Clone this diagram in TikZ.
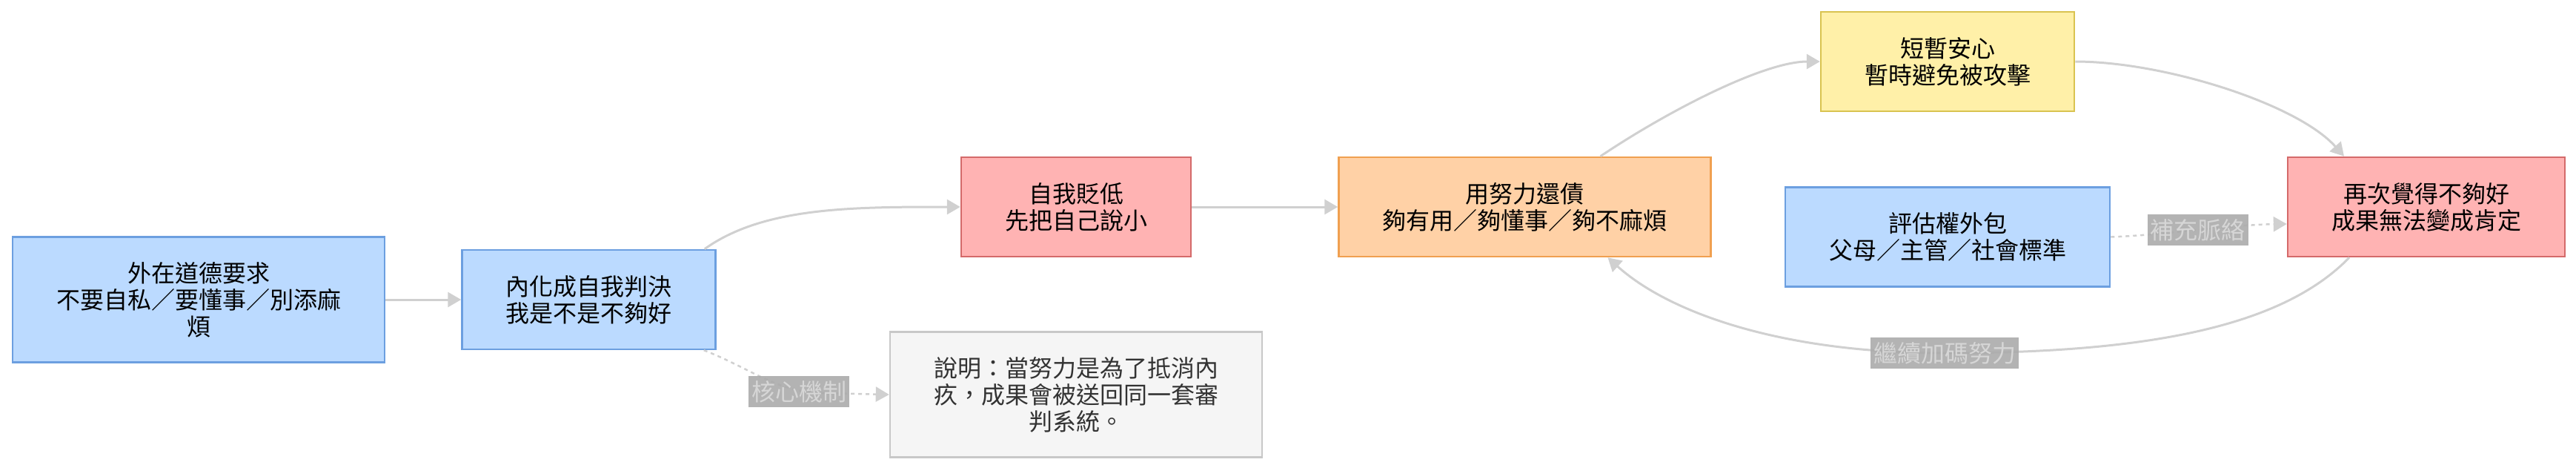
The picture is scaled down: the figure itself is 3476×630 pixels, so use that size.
\documentclass[tikz,border=0pt]{standalone}
\usepackage{fontspec}
\newfontfamily\cjk{Noto Sans CJK TC}
\usetikzlibrary{positioning,arrows.meta,calc}
\definecolor{bluefill}{HTML}{BBDAFF}
\definecolor{blueline}{HTML}{6C9FE0}
\definecolor{redfill}{HTML}{FFB3B3}
\definecolor{redline}{HTML}{D46A6A}
\definecolor{orangefill}{HTML}{FFD1A6}
\definecolor{orangeline}{HTML}{F0A050}
\definecolor{yellowfill}{HTML}{FFF0A8}
\definecolor{yellowline}{HTML}{D9C350}
\definecolor{notefill}{HTML}{F5F5F5}
\definecolor{noteline}{HTML}{C8C8C8}
\definecolor{edgegray}{HTML}{D0D0D0}
\definecolor{labelgray}{HTML}{ABABAB}
\definecolor{labeltext}{HTML}{D6D6D6}

\begin{document}
\begin{tikzpicture}[
    x=1pt, y=-1pt,
    node distance=100pt and 100pt,
    box/.style={draw, line width=2.5pt, align=center, inner xsep=59pt, inner ysep=0pt,
                minimum height=134pt, font=\cjk\fontsize{32}{36}\selectfont},
    tall/.style={minimum height=169pt},
    bluebox/.style={box, fill=bluefill, draw=blueline},
    redbox/.style={box, fill=redfill, draw=redline},
    orangebox/.style={box, fill=orangefill, draw=orangeline},
    yellowbox/.style={box, fill=yellowfill, draw=yellowline},
    notebox/.style={box, tall, fill=notefill, draw=noteline, text=black!80},
    arr/.style={draw=edgegray, line width=3pt, -{Triangle[length=18pt,width=20pt]}},
    dotarr/.style={arr, line width=2.5pt, dash pattern=on 5pt off 5pt},
    lbl/.style={fill=labelgray, fill opacity=0.9, text opacity=1, text=labeltext,
                inner xsep=4pt, inner ysep=6pt, font=\cjk\fontsize{32}{36}\selectfont}
]
\useasboundingbox (0,0) rectangle (3476,630);

\node[bluebox, tall] (demand) at (268,404) {外在道德要求\\不要自私／要懂事／別添麻\\煩};
\node[bluebox, right=102pt of demand] (verdict) {內化成自我判決\\我是不是不夠好};
\node[redbox] (belittle) at (1452,279) {自我貶低\\先把自己說小};
\node[notebox, below=99pt of belittle] (note) {說明：當努力是為了抵消內\\疚，成果會被送回同一套審\\判系統。};
\node[orangebox, right=197pt of belittle] (repay) {用努力還債\\夠有用／夠懂事／夠不麻煩};
\node[yellowbox] (relief) at (2628,83) {短暫安心\\暫時避免被攻擊};
\node[bluebox, below=100pt of relief] (outsource) {評估權外包\\父母／主管／社會標準};
\node[redbox, right=776pt of repay] (again) {再次覺得不夠好\\成果無法變成肯定};

\draw[arr] (demand) -- (verdict);
\draw[arr] ([xshift=-16pt]verdict.north east) .. controls (1030,279) and (1150,279) .. (belittle.west);
\draw[arr] (belittle) -- (repay);
\draw[arr] ([xshift=102pt]repay.north) .. controls (2250,150) and (2380,83) .. (relief.west);
\draw[arr] (relief.east) .. controls (2920,83) and (3100,140) .. ([xshift=-111pt]again.north);
\draw[dotarr] (outsource.east) .. controls (2920,317) and (3010,303) .. ($(again.west)+(0,23)$)
    node[lbl, pos=0.5] (context) {補充脈絡};
\draw[arr] ([xshift=-104pt]again.south) .. controls (3080,440) and (2900,476) .. (2624,476)
    node[lbl] (more) {繼續加碼努力}
    .. controls (2400,476) and (2250,420) .. ([xshift=112pt]repay.south);
\draw[dotarr] ([xshift=-17pt]verdict.south east) .. controls (1010,495) and (1050,530) .. (1110,530) -- (note.west);
\node[lbl] (core) at (1078,528) {核心機制};
\end{tikzpicture}
\end{document}
